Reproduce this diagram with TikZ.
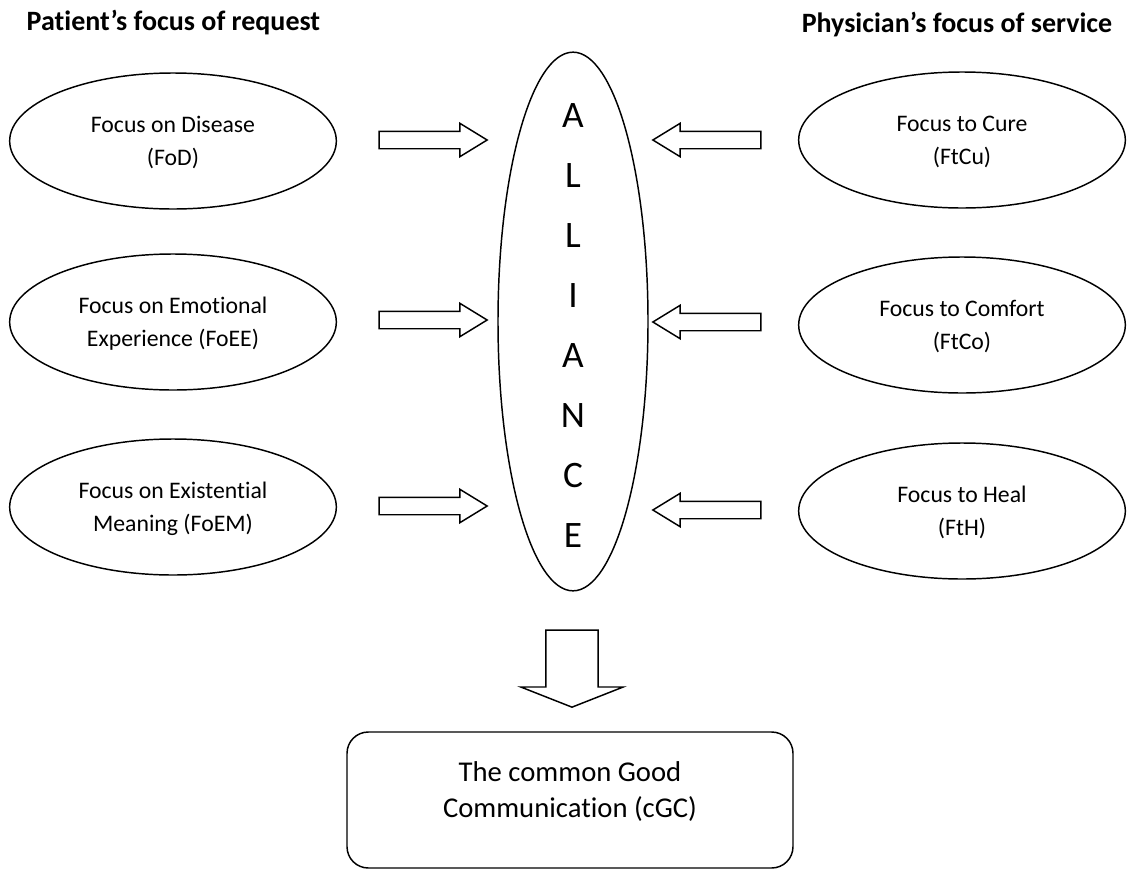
\documentclass[tikz,border=0pt]{standalone}
\usepackage{fontspec}
\setmainfont{Carlito}[Ligatures={NoCommon}]
\usetikzlibrary{shapes.geometric,shapes.arrows}
\begin{document}
\begin{tikzpicture}[x=0.75pt, y=-0.75pt, line width=1.1pt,
  focus/.style={draw, ellipse, minimum width=245pt, minimum height=102pt, inner sep=0pt, text depth=0pt, align=center, font=\fontsize{17.8}{24.75}\selectfont},
  head/.style={font=\bfseries\fontsize{21}{24}\selectfont, inner sep=0pt},
  blk/.style={draw, single arrow, single arrow head extend=6pt, single arrow tip angle=63, single arrow head indent=0pt, inner sep=6pt, minimum height=81pt}]
\useasboundingbox (0,0) rectangle (1128,871);
% headings
\node[head, anchor=base west] (pat) at (26,30) {Patient’s focus of request};
\node[head, anchor=base east] (phy) at (1113,32) {Physician’s focus of service};
% patient side
\node[focus] (fod) at (173,141) {Focus on Disease\\(FoD)};
\node[focus] (foee) at (173,322) {Focus on Emotional\\Experience (FoEE)};
\node[focus] (foem) at (173,507) {Focus on Existential\\Meaning (FoEM)};
% physician side
\node[focus] (ftcu) at (962,140) {Focus to Cure\\(FtCu)};
\node[focus] (ftco) at (962,325) {Focus to Comfort\\(FtCo)};
\node[focus] (fth) at (962,511) {Focus to Heal\\(FtH)};
% alliance
\node[draw, ellipse, minimum width=112.5pt, minimum height=404pt, inner sep=0pt] (all) at (573,321.5) {};
\node[align=center, inner sep=0pt, font=\fontsize{28}{45}\selectfont] (allt) at (573,325.5) {A\\L\\L\\I\\A\\N\\C\\E};
% block arrows
\node[blk] (a1) at (426,140) {};
\node[blk] (a2) at (426,320) {};
\node[blk] (a3) at (426,506) {};
\node[blk, shape border rotate=180] (b1) at (714,140) {};
\node[blk, shape border rotate=180] (b2) at (714,322) {};
\node[blk, shape border rotate=180] (b3) at (714,510) {};
\node[draw, single arrow, shape border rotate=270, single arrow head extend=18.75pt, single arrow tip angle=137,
  single arrow head indent=0pt, inner sep=19.1pt, minimum height=57.75pt] (down) at (572,663.5) {};
% result
\node[draw, rounded corners=16pt, minimum width=334.5pt, minimum height=102pt, text depth=16pt, align=center,
  font=\fontsize{21.5}{27}\selectfont] (cgc) at (570,800) {The common Good\\Communication (cGC)};
\end{tikzpicture}
\end{document}
